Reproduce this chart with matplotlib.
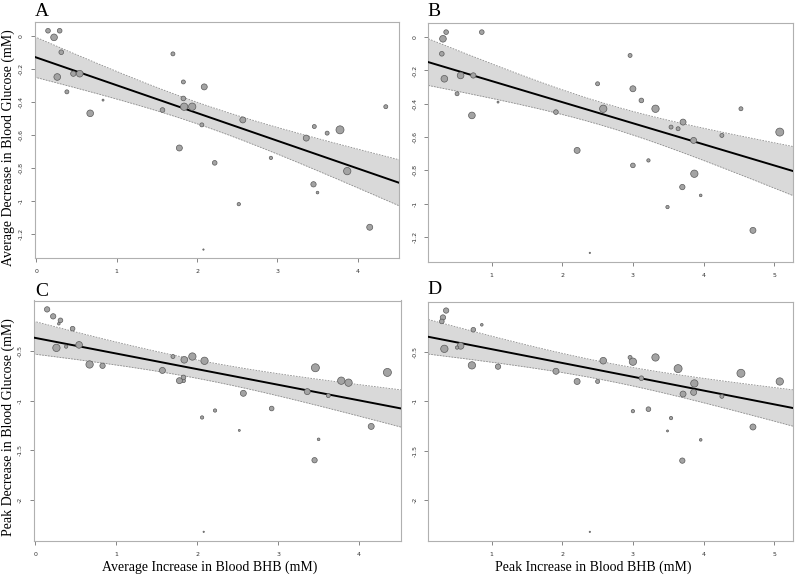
import numpy as np
import matplotlib
matplotlib.use("Agg")
import matplotlib.pyplot as plt

plt.rcParams['axes.unicode_minus'] = False

# increase in blood BHB (mM)
avg_bhb = [0.145, 0.22, 0.29, 0.31, 0.26, 0.46, 0.54, 0.38, 0.83, 0.67,
           1.57, 1.70, 1.83, 1.83, 1.84, 1.94, 2.09, 2.06, 1.78, 2.22,
           2.57, 2.52, 2.08, 2.92, 3.36, 3.46, 3.62, 3.78, 3.45, 3.50,
           3.87, 4.15, 4.35]
peak_bhb = [0.355, 0.31, 0.86, 0.294, 0.33, 0.74, 0.56, 0.51, 1.09, 0.72,
            1.91, 2.96, 2.50, 3.12, 2.58, 3.32, 3.00, 3.54, 2.21, 3.00,
            3.71, 3.49, 2.39, 3.22, 3.86, 3.64, 4.26, 5.08, 3.70, 3.96,
            3.87, 4.70, 4.53]

# decrease in blood glucose (mM)
avg_glu = [0.03, -0.01, 0.03, -0.10, -0.25, -0.23, -0.23, -0.34, -0.39, -0.47,
           -0.45, -0.11, -0.28, -0.38, -0.43, -0.43, -0.31, -0.54, -0.68, -0.77,
           -0.51, -1.02, -1.295, -0.74, -0.62, -0.55, -0.59, -0.57, -0.90, -0.95,
           -0.82, -1.16, -0.43]
peak_glu = [-0.083, -0.153, -0.227, -0.193, -0.47, -0.277, -0.44, -0.457, -0.65, -0.637,
            -0.697, -0.557, -0.80, -0.767, -0.59, -0.557, -0.60, -1.17, -0.80, -1.10,
            -0.927, -1.30, -2.32, -1.08, -0.91, -0.67, -0.95, -0.80, -1.60, -1.39,
            -0.82, -1.26, -0.717]

# relative study weights (point size)
weight_avg = [7, 10, 7, 7, 10, 8, 10, 6, 3, 10, 7, 6, 6, 7, 11, 11, 9, 6, 9, 7,
              9, 5, 2, 5, 9, 6, 6, 12, 8, 4, 11, 9, 6]
weight_peak = [8, 8, 4, 7, 11, 7, 10, 5, 8, 11, 9, 6, 6, 7, 10, 11, 11, 5, 9, 5,
               9, 3, 2, 7, 9, 12, 6, 11, 8, 4, 11, 9, 12]

# meta-regression fits: intercept, slope, min CI half-width, CI growth, centre
fit_a = (-0.132, -0.168, 0.065, 0.050, 2.05)
fit_b = (-0.137, -0.1266, 0.068, 0.049, 2.6)
fit_c = (-0.370, -0.157, 0.092, 0.066, 2.05)
fit_d = (-0.334, -0.1394, 0.090, 0.060, 2.6)

W, H = 796, 578


def box(l, r, t, b):
    return [l / W, 1 - b / H, (r - l) / W, (b - t) / H]


def panel(ax, x, y, w, fit, xticks, yticks):
    x = np.array(x)
    y = np.array(y)
    xr = x.max() - x.min()
    yr = y.max() - y.min()
    xlim = (x.min() - 0.04 * xr, x.max() + 0.04 * xr)
    ylim = (y.min() - 0.04 * yr, y.max() + 0.04 * yr)

    b0, b1, h0, k, xc = fit
    xs = np.linspace(xlim[0], xlim[1], 200)
    pred = b0 + b1 * xs
    hw = np.sqrt(h0 ** 2 + (k * (xs - xc)) ** 2)
    ax.fill_between(xs, pred - hw, pred + hw, color='#d9d9d9', lw=0, zorder=1)
    ax.plot(xs, pred - hw, ls=(0, (2, 1.5)), color='#8c8c8c', lw=0.6, zorder=2)
    ax.plot(xs, pred + hw, ls=(0, (2, 1.5)), color='#8c8c8c', lw=0.6, zorder=2)
    ax.plot(xs, pred, color='black', lw=1.4, zorder=3)

    s = (0.48 * np.array(w)) ** 2
    ax.scatter(x, y, s=s, c='#a3a3a3', edgecolors='#5a5a5a', linewidths=0.5, zorder=4)

    ax.set_xlim(xlim)
    ax.set_ylim(ylim)
    ax.set_xticks(xticks)
    ax.set_xticklabels([f'{t:g}' for t in xticks])
    ax.set_yticks(yticks)
    ax.set_yticklabels([f'{t:g}' for t in yticks], rotation=90, va='center')
    ax.tick_params(labelsize=4.5, colors='#555555', length=3, width=0.5, pad=5,
                   labelcolor='#333333')
    for sp in ax.spines.values():
        sp.set_color('#b0b0b0')
        sp.set_linewidth(0.8)


fig = plt.figure(figsize=(W / 100, H / 100), dpi=100)
ax_a = fig.add_axes(box(34.5, 399.3, 22, 258.3))
ax_b = fig.add_axes(box(428.3, 793.3, 23.3, 261.7))
ax_c = fig.add_axes(box(33.5, 401, 300.5, 540.7))
ax_d = fig.add_axes(box(428.3, 793.3, 301.7, 540.7))

glu_ticks_avg = [0, -0.2, -0.4, -0.6, -0.8, -1, -1.2]
glu_ticks_peak = [-0.5, -1, -1.5, -2]

panel(ax_a, avg_bhb, avg_glu, weight_avg, fit_a, [0, 1, 2, 3, 4], glu_ticks_avg)
panel(ax_b, peak_bhb, avg_glu, weight_avg, fit_b, [1, 2, 3, 4, 5], glu_ticks_avg)
panel(ax_c, avg_bhb, peak_glu, weight_peak, fit_c, [0, 1, 2, 3, 4], glu_ticks_peak)
panel(ax_d, peak_bhb, peak_glu, weight_peak, fit_d, [1, 2, 3, 4, 5], glu_ticks_peak)

serif = 'Liberation Serif'
for letter, px, py in [('A', 35, 15.5), ('B', 427, 16), ('C', 35, 295.5), ('D', 427, 294)]:
    fig.text(px / W, 1 - py / H, letter, family=serif, fontsize=14,
             ha='left', va='baseline')

lab = dict(family=serif, fontsize=10)
fig.text(8 / W, 1 - 148 / H, 'Average Decrease in Blood Glucose (mM)', rotation=90,
         ha='center', va='center', **lab)
fig.text(8 / W, 1 - 427 / H, 'Peak Decrease in Blood Glucose (mM)', rotation=90,
         ha='center', va='center', **lab)
fig.text(210 / W, 1 - 567 / H, 'Average Increase in Blood BHB (mM)',
         ha='center', va='center', **lab)
fig.text(593 / W, 1 - 567 / H, 'Peak Increase in Blood BHB (mM)',
         ha='center', va='center', **lab)

fig.savefig('out.png', dpi=100)
